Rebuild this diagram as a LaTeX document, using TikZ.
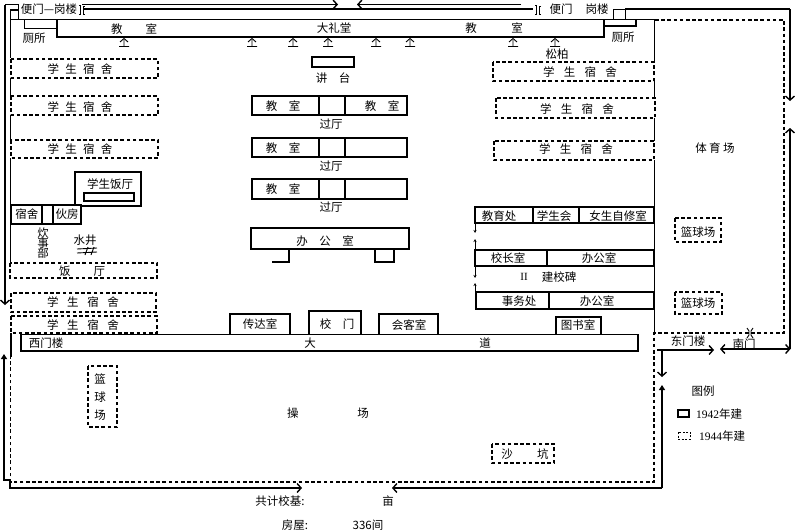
\documentclass[tikz,border=0pt]{standalone}
\usepackage{fontspec}
\setmainfont{Liberation Serif}
\newfontfamily\cjk{Noto Sans CJK SC}
\usetikzlibrary{arrows.meta}
\newcommand{\pinetree}[1]% x of the tree
{\draw[line width=.9pt] (#1-4,42) -- (#1,38.5) -- (#1+4,42) (#1,40) -- (#1,46.5) (#1-5,46.5) -- (#1+5,46.5);
}
\newcommand{\sidebracket}[1]% x of the middle of a pair of brackets
{\draw[line width=.7pt] (#1-3,5) -- (#1-1.5,5) -- (#1-1.5,14) -- (#1-3,14) (#1+3,6) -- (#1+1.5,6) -- (#1+1.5,14) -- (#1+3,14);
}
\newcommand{\dormname}[1]% gap between the characters
{学\hspace{#1}生\hspace{#1}宿\hspace{#1}舍}
\tikzset{
	oldwall/.style={line width=1.5pt},
	thinwall/.style={line width=.9pt},
	newwall/.style={line width=1.3pt, dash pattern=on 3.6pt off 2.6pt},
	label/.style={font=\cjk\fontsize{11.5}{12}\selectfont, inner sep=0pt},
	barb/.style={-{Straight Barb[length=4pt,width=9pt,line width=1.4pt]}},
	tri/.style={-{Triangle[length=5pt,width=6pt]}},
	tiny/.style={-{Stealth[length=3pt,width=3pt]}, line width=.8pt}
}

\begin{document}
\begin{tikzpicture}[x=1pt,y=-1pt]
	\useasboundingbox (0,0) rectangle (800,530);
	% top wall and gates
	\draw[oldwall] (10,19.5) -- (655,19.5);
	\draw[thinwall] (18,4) -- (18,19);
	\draw[oldwall] (18,4.5) -- (5,4.5);
	\draw[oldwall,barb] (5,4.5) -- (5,305);
	\draw[oldwall] (18,10) -- (10.5,10) -- (10.5,58);
	\draw[oldwall] (10.5,78) -- (10.5,96);
	\draw[oldwall] (10.5,115) -- (10.5,140);
	\draw[oldwall] (10.5,158) -- (10.5,263);
	\draw[oldwall,barb] (82,4.5) -- (338,4.5);
	\draw[oldwall,barb] (521,4.5) -- (357,4.5);
	\draw[oldwall] (84,9) -- (533,9);
	\sidebracket{82}
	\sidebracket{538}
	\draw[oldwall] (625,9) -- (790,9);
	\draw[oldwall,barb] (790,9) -- (790,101);
	\draw[oldwall,barb] (790,349) -- (790,128);
	\draw[thinwall] (613,19) -- (613,9) -- (625,9) -- (625,19);
	% main building
	\draw[oldwall] (57,19) -- (57,37) -- (604,37) -- (604,19);
	\draw[thinwall] (24,19) -- (24,28) -- (57,28);
	\draw[oldwall] (604,26) -- (636,26) -- (636,20);
	\node[label] (sidegatea) at (49,9){便门—岗楼};
	\node[label] (sidegateb) at (561,9){便门};
	\node[label] (towerb) at (597,9){岗楼};
	\node[label] (wca) at (34,38){厕所};
	\node[label] (wcb) at (623,37){厕所};
	\node[label] (classa) at (134,29){教\hspace{2em}室};
	\node[label] (hall) at (334,28){大礼堂};
	\node[label] (classb) at (494,28){教\hspace{3em}室};
	\node[label] (pine) at (557,54){松柏};
	\pinetree{124}
	\pinetree{252}
	\pinetree{293}
	\pinetree{328}
	\pinetree{376}
	\pinetree{410}
	\pinetree{513}
	\pinetree{555}
	% left dormitories
	\draw[newwall] (11,59) rectangle (158,78);
	\draw[newwall] (11,96) rectangle (158,115);
	\draw[newwall] (11,140) rectangle (158,158);
	\draw[newwall] (10,263) rectangle (157,278);
	\draw[newwall] (11,293) rectangle (156,312);
	\draw[newwall] (11,316) rectangle (157,333);
	\node[label] (dorma) at (80,69){\dormname{.55em}};
	\node[label] (dormb) at (80,107){\dormname{.55em}};
	\node[label] (dormc) at (80,149){\dormname{.55em}};
	\node[label] (canteen) at (82,271){饭\hspace{2em}厅};
	\node[label] (dormd) at (83,302){\dormname{.75em}};
	\node[label] (dorme) at (83,325){\dormname{.75em}};
	% student canteen and kitchen
	\draw[oldwall] (75,206) -- (75,172) -- (141,172) -- (141,206) -- (81,206);
	\draw[oldwall] (84,193) rectangle (134,201);
	\draw[oldwall] (11,205) rectangle (81,224);
	\draw[oldwall] (42,205) -- (42,224);
	\draw[oldwall] (53,205) -- (53,224);
	\node[label] (scanteen) at (110,184){学生饭厅};
	\node[label] (quarters) at (27,214){宿舍};
	\node[label] (kitchen) at (67,214){伙房};
	\node[label] (cooka) at (43,233){炊};
	\node[label] (cookb) at (43,243){事};
	\node[label] (cookc) at (43,253){部};
	\node[label] (well) at (85,240){水井};
	\draw[thinwall] (77,249) -- (97,248) (77,253) -- (97,252) (85,255) -- (88,247) (91,255) -- (94,247);
	% lecture stage and class rows
	\draw[oldwall] (312,57) rectangle (354,67);
	\node[label] (stage) at (333,78){讲\hspace{1em}台};
	\draw[oldwall] (252,96) rectangle (407,115);
	\draw[oldwall] (319,96) -- (319,115);
	\draw[oldwall] (345,96) -- (345,115);
	\draw[oldwall] (252,138) rectangle (407,157);
	\draw[oldwall] (319,138) -- (319,157);
	\draw[oldwall] (345,138) -- (345,157);
	\draw[oldwall] (252,179) rectangle (407,199);
	\draw[oldwall] (319,179) -- (319,199);
	\draw[oldwall] (345,179) -- (345,199);
	\node[label] (rowaa) at (283,106){教\hspace{1em}室};
	\node[label] (rowab) at (382,106){教\hspace{1em}室};
	\node[label] (rowba) at (283,148){教\hspace{1em}室};
	\node[label] (rowca) at (283,189){教\hspace{1em}室};
	\node[label] (passa) at (331,124){过厅};
	\node[label] (passb) at (331,166){过厅};
	\node[label] (passc) at (331,207){过厅};
	\draw[oldwall] (251,228) rectangle (409,249);
	\draw[oldwall] (289,249) -- (289,262) -- (272,262);
	\draw[oldwall] (375,249) -- (375,262) -- (394,262) -- (394,249);
	\node[label] (office) at (325,241){办\hspace{1em}公\hspace{1em}室};
	% the road and its rooms
	\draw[thinwall] (21,334) -- (638,334);
	\draw[oldwall] (21,334) -- (21,351);
	\draw[oldwall] (638,334) -- (638,351);
	\draw[line width=2pt] (20,351) -- (639,351);
	\draw[oldwall] (230,334) -- (230,314) -- (290,314) -- (290,334);
	\draw[oldwall] (309,334) -- (309,311) -- (361,311) -- (361,334);
	\draw[oldwall] (379,334) -- (379,314) -- (438,314) -- (438,334);
	\draw[oldwall] (556,334) -- (556,317) -- (601,317) -- (601,334);
	\node[label] (west) at (46,343){西门楼};
	\node[label] (roada) at (310,343){大};
	\node[label] (roadb) at (485,343){道};
	\node[label] (porter) at (260,324){传达室};
	\node[label] (gate) at (337,324){校\hspace{1em}门};
	\node[label] (guest) at (409,325){会客室};
	\node[label] (library) at (578,325){图书室};
	% right dormitories
	\draw[newwall] (493,62) rectangle (654,81);
	\draw[newwall] (496,98) rectangle (655,118);
	\draw[newwall] (494,141) rectangle (654,160);
	\node[label] (dormf) at (580,72){\dormname{.8em}};
	\node[label] (dormg) at (577,109){\dormname{.8em}};
	\node[label] (dormh) at (576,149){\dormname{.8em}};
	\draw[oldwall] (654.5,20) -- (654.5,62);
	\draw[oldwall] (654.5,81) -- (654.5,98);
	\draw[oldwall] (654.5,118) -- (654.5,141);
	\draw[oldwall] (654.5,160) -- (654.5,333);
	% offices on the right
	\draw[oldwall] (475,207) rectangle (654,223);
	\draw[oldwall] (533,207) -- (533,223);
	\draw[oldwall] (579,207) -- (579,223);
	\draw[oldwall] (475,250) rectangle (654,266);
	\draw[oldwall] (547,250) -- (547,266);
	\draw[oldwall] (476,292) rectangle (654,309);
	\draw[oldwall] (549,292) -- (549,309);
	\draw[tiny] (475,223) -- (475,233);
	\draw[tiny] (475,250) -- (475,239);
	\draw[tiny] (475,266) -- (475,278);
	\draw[tiny] (475,292) -- (475,283);
	\node[label] (teach) at (499,216){教育处};
	\node[label] (union) at (554,216){学生会};
	\node[label] (girls) at (618,216){女生自修室};
	\node[label] (head) at (508,258){校长室};
	\node[label] (officea) at (599,258){办公室};
	\node[label,font=\fontsize{11}{12}\selectfont] (two) at (524,277){II};
	\node[label] (stone) at (559,277){建校碑};
	\node[label] (affairs) at (519,301){事务处};
	\node[label] (officeb) at (597,301){办公室};
	% sports ground
	\draw[newwall] (655,20) -- (784,20) -- (784,333) -- (654,333) -- (654,482) -- (10.5,482) -- (10.5,356);
	\draw[thinwall] (747,328) -- (749,331) -- (749,335) -- (747,338) (753,328) -- (751,331) -- (751,335) -- (753,338);
	\draw[oldwall] (11,333) -- (11,357);
	\node[label] (gym) at (715,148){体\hspace{.2em}育\hspace{.2em}场};
	\draw[newwall] (675,218) rectangle (721,242);
	\draw[newwall] (675,292) rectangle (722,314);
	\node[label] (courta) at (698,232){篮球场};
	\node[label] (courtb) at (698,303){篮球场};
	\node[label] (east) at (688,341){东门楼};
	\node[label] (south) at (744,344){南门};
	\draw[oldwall,barb] (657,350) -- (714,350);
	\draw[oldwall,barb] (662,350) -- (662,377);
	\draw[oldwall,barb] (785,349) -- (720,349);
	\draw[oldwall,barb] (780,349) -- (790.5,349);
	% playground
	\draw[newwall] (88,366) rectangle (117,427);
	\node[label] (courtc) at (100,379){篮};
	\node[label] (courtd) at (100,397){球};
	\node[label] (courte) at (100,415){场};
	\node[label] (ground) at (328,413){操\hspace{5.1em}场};
	\draw[newwall] (492,444) rectangle (554,463);
	\node[label] (sand) at (525,454){沙\hspace{2.1em}坑};
	% outer wall at the bottom
	\draw[oldwall,tri] (10,480) -- (4,480) -- (4,354);
	\draw[oldwall,barb] (10,480) -- (10,488) -- (302,488);
	\draw[oldwall,barb] (662,488) -- (392,488);
	\draw[oldwall,tri] (662,488) -- (662,385);
	% legend
	\node[label] (legend) at (703,391){图例};
	\draw[oldwall] (678,410) rectangle (689,417);
	\draw[thinwall,dash pattern=on 2pt off 1.5pt] (678,432) rectangle (690,439);
	\node[label] (legenda) at (719,414){{\fontspec{Liberation Serif}1942}年建};
	\node[label] (legendb) at (722,436){{\fontspec{Liberation Serif}1944}年建};
	% totals
	\node[label] (total) at (280,501){共计校基:};
	\node[label] (mu) at (388,501){亩};
	\node[label] (houses) at (295,525){房屋:};
	\node[label] (rooms) at (368,525){336间};
\end{tikzpicture}
\end{document}
